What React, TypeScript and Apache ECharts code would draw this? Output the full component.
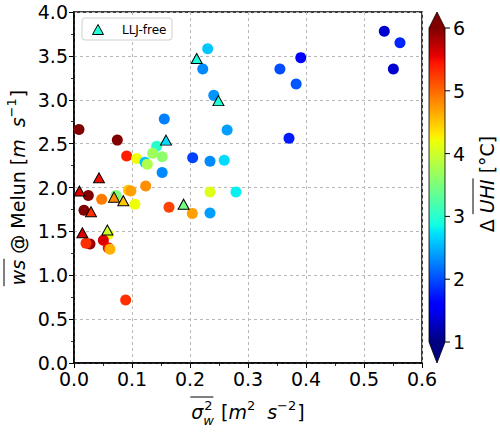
import React, { useEffect, useRef } from "react";
import * as echarts from "echarts";

// ---- data ----
const circleX = [0.2305, 0.222, 0.241, 0.1557, 0.264, 0.0086, 0.0747, 0.1425, 0.0908, 0.108, 0.1356, 0.152, 0.1224, 0.1264, 0.152, 0.2046, 0.2345, 0.259, 0.0247, 0.0477, 0.0724, 0.094, 0.098, 0.1236, 0.105, 0.0172, 0.1638, 0.204, 0.2345, 0.2345, 0.2793, 0.059, 0.0506, 0.0276, 0.0207, 0.059, 0.062, 0.0891, 0.535, 0.562, 0.5506, 0.391, 0.355, 0.383, 0.3707];
const circleY = [3.58, 3.35, 3.05, 2.78, 2.655, 2.66, 2.54, 2.47, 2.36, 2.33, 2.39, 2.35, 2.287, 2.265, 2.17, 2.34, 2.3, 2.31, 1.91, 1.865, 1.91, 1.97, 1.96, 2.017, 1.81, 1.74, 1.774, 1.705, 1.71, 1.95, 1.95, 1.467, 1.4, 1.356, 1.364, 1.314, 1.296, 0.718, 3.78, 3.65, 3.35, 3.48, 3.35, 3.18, 2.56];
const circleUHI = [2.6, 2.3, 2.35, 2.25, 2.4, 6.0, 6.0, 3.0, 5.4, 4.2, 3.7, 3.6, 2.6, 3.8, 2.3, 1.95, 2.3, 2.7, 6.0, 4.9, 3.5, 4.5, 4.7, 4.8, 4.2, 6.0, 5.2, 4.7, 2.4, 4.1, 2.8, 4.2, 5.6, 5.9, 5.3, 5.5, 4.6, 5.3, 1.35, 1.8, 1.35, 1.55, 2.0, 2.05, 1.75];

const triX = [0.2115, 0.249, 0.1586, 0.0431, 0.0092, 0.069, 0.085, 0.0293, 0.189, 0.0144, 0.0575];
const triY = [3.47, 2.99, 2.54, 2.11, 1.96, 1.89, 1.85, 1.724, 1.81, 1.485, 1.516];
const triUHI = [2.9, 2.95, 2.7, 5.5, 5.6, 4.8, 4.5, 5.3, 3.45, 5.6, 4.0];

const cbarTicks = [1, 2, 3, 4, 5, 6];
const uhiMin = 1;
const uhiMax = 6;
const legendLabel = "LLJ-free";

// ---- jet colormap ----
function interp(t: number, xs: number[], ys: number[]) {
  for (let i = 0; i < xs.length - 1; i++) {
    if (t <= xs[i + 1]) {
      const f = (t - xs[i]) / (xs[i + 1] - xs[i]);
      return ys[i] + f * (ys[i + 1] - ys[i]);
    }
  }
  return ys[ys.length - 1];
}
function jet(t: number) {
  const r = interp(t, [0, 0.35, 0.66, 0.89, 1], [0, 0, 1, 1, 0.5]);
  const g = interp(t, [0, 0.125, 0.375, 0.64, 0.91, 1], [0, 0, 1, 1, 0, 0]);
  const b = interp(t, [0, 0.11, 0.34, 0.65, 1], [0.5, 1, 1, 0, 0]);
  const h = (v: number) => Math.round(v * 255).toString(16).padStart(2, "0");
  return "#" + h(r) + h(g) + h(b);
}
const N = 128;
const jetColors = Array.from({ length: N }, (_, i) => jet(i / (N - 1)));

// ---- layout ----
const GL = 74, GR = 422, GT = 12, GB = 363;
const CB_L = 429, CB_R = 445, CB_T = 28, CB_B = 342;
const FONT = "DejaVu Sans";
const FS = 19;
const SS = 13;

type Piece = { t?: string; size?: number; it?: boolean; dy?: number; gap?: number; over?: boolean; stack?: [string, boolean, string, boolean] };

function buildLabel(pieces: Piece[], cx: number, cy: number, rot: number) {
  const ctx = document.createElement("canvas").getContext("2d")!;
  const fontOf = (size: number, it: boolean) => `${it ? "italic " : ""}${size}px '${FONT}'`;
  const meas = (t: string, size: number, it: boolean) => {
    ctx.font = fontOf(size, it);
    return ctx.measureText(t).width;
  };
  const widths = pieces.map((p) => {
    if (p.gap !== undefined) return p.gap;
    if (p.stack) return Math.max(meas(p.stack[0], SS, p.stack[1]), meas(p.stack[2], SS, p.stack[3])) + 1;
    return meas(p.t!, p.size || FS, !!p.it);
  });
  const W = widths.reduce((a, b) => a + b, 0);
  let x = -W / 2;
  const children: any[] = [];
  pieces.forEach((p, i) => {
    const w = widths[i];
    if (p.stack) {
      children.push({ type: "text", x: x + 1, y: -7, style: { text: p.stack[0], font: fontOf(SS, p.stack[1]), fill: "#000", textVerticalAlign: "middle" } });
      children.push({ type: "text", x: x, y: 8, style: { text: p.stack[2], font: fontOf(SS, p.stack[3]), fill: "#000", textVerticalAlign: "middle" } });
    } else if (p.t) {
      children.push({ type: "text", x, y: p.dy || 0, style: { text: p.t, font: fontOf(p.size || FS, !!p.it), fill: "#000", textVerticalAlign: "middle" } });
    }
    if (p.over) {
      children.push({ type: "line", shape: { x1: x - 1, y1: -14, x2: x + w + 1, y2: -14 }, style: { stroke: "#000", lineWidth: 1 } });
    }
    x += w;
  });
  return { type: "group", x: cx, y: cy, rotation: rot, children };
}

export default function App() {
  const ref = useRef<HTMLDivElement>(null);
  useEffect(() => {
    if (!ref.current) return;
    const chart = echarts.init(ref.current, undefined, { renderer: "svg" });

    const cbStops = jetColors.map((c, i) => ({ offset: i / (N - 1), color: c }));
    const cbY = (v: number) => CB_B - ((v - uhiMin) / (uhiMax - uhiMin)) * (CB_B - CB_T);
    const cbMid = (CB_L + CB_R) / 2;

    const graphics: any[] = [];
    // colorbar body
    graphics.push({
      type: "rect",
      shape: { x: CB_L, y: CB_T, width: CB_R - CB_L, height: CB_B - CB_T },
      style: { fill: { type: "linear", x: 0, y: 1, x2: 0, y2: 0, colorStops: cbStops } },
      silent: true,
    });
    graphics.push({ type: "polygon", shape: { points: [[CB_L, CB_T], [CB_R, CB_T], [cbMid, 12]] }, style: { fill: jet(1) } });
    graphics.push({ type: "polygon", shape: { points: [[CB_L, CB_B], [CB_R, CB_B], [cbMid, 363]] }, style: { fill: jet(0) } });
    graphics.push({
      type: "polygon",
      shape: { points: [[CB_L, CB_T], [cbMid, 12], [CB_R, CB_T], [CB_R, CB_B], [cbMid, 363], [CB_L, CB_B]] },
      style: { fill: "none", stroke: "#000", lineWidth: 0.8 },
    });
    cbarTicks.forEach((v) => {
      const y = cbY(v);
      graphics.push({ type: "line", shape: { x1: CB_R, y1: y, x2: CB_R + 5, y2: y }, style: { stroke: "#000", lineWidth: 1 } });
      graphics.push({
        type: "text",
        x: CB_R + 8,
        y: y,
        style: { text: String(v), font: `${FS}px '${FONT}'`, fill: "#000", textAlign: "left", textVerticalAlign: "middle" },
      });
    });
    // colorbar label
    graphics.push(
      buildLabel(
        [{ t: "Δ " }, { t: "UHI", it: true, over: true }, { t: " [°C]" }],
        487,
        184,
        Math.PI / 2
      )
    );
    // y label
    graphics.push(
      buildLabel(
        [
          { t: "ws", it: true, over: true },
          { t: " @ Melun [" },
          { t: "m", it: true },
          { gap: 12 },
          { t: "s", it: true },
          { t: "−1", size: SS, dy: -7 },
          { gap: 1 },
          { t: "]" },
        ],
        18,
        187.5,
        Math.PI / 2
      )
    );
    // x label
    graphics.push(
      buildLabel(
        [
          { t: "σ", it: true },
          { stack: ["2", false, "w", true] },
          { gap: 6 },
          { t: "[" },
          { t: "m", it: true },
          { t: "2", size: SS, dy: -7 },
          { gap: 12 },
          { t: "s", it: true },
          { t: "−2", size: SS, dy: -7 },
          { gap: 1 },
          { t: "]" },
        ],
        248,
        412,
        0
      )
    );
    // fix overline on sigma group in x label: extend over the stack
    const xLab = graphics[graphics.length - 1];
    const sigmaOver = { type: "line", shape: { x1: 0, y1: -15, x2: 0, y2: -15 }, style: { stroke: "#000", lineWidth: 1 } };
    const sig = xLab.children[0];
    const sub = xLab.children[2];
    sigmaOver.shape.x1 = sig.x - 1;
    sigmaOver.shape.x2 = sub.x + 10;
    xLab.children.push(sigmaOver);

    // legend
    graphics.push({
      type: "rect",
      shape: { x: 82, y: 18, width: 90, height: 22, r: 3 },
      style: { fill: "rgba(255,255,255,0.8)", stroke: "#d0d0d0", lineWidth: 1 },
      z: 100,
    });
    graphics.push({
      type: "polygon",
      shape: { points: [[92.5, 34.5], [103.5, 34.5], [98, 24.5]] },
      style: { fill: jet((2.95 - uhiMin) / (uhiMax - uhiMin)), stroke: "#000", lineWidth: 1 },
      z: 101,
    });
    graphics.push({
      type: "text",
      x: 122,
      y: 29.5,
      style: { text: legendLabel, font: `12px '${FONT}'`, fill: "#000", textVerticalAlign: "middle" },
      z: 101,
    });

    const axisCommon = {
      axisLine: { show: true, onZero: false, lineStyle: { color: "#000", width: 1.5 } },
      axisTick: { show: true, inside: false, length: 5, lineStyle: { color: "#000", width: 1 } },
      minorTick: { show: true, splitNumber: 2, length: 3, lineStyle: { color: "#000", width: 0.8 } },
      splitLine: { show: true, lineStyle: { color: "#b8b8b8", width: 1, type: [3, 3] } },
      axisLabel: { color: "#000", fontSize: FS, fontFamily: FONT, margin: 6, formatter: (v: number) => v.toFixed(1) },
    };

    chart.setOption({
      animation: false,
      backgroundColor: "#fff",
      grid: { left: GL, right: 500 - GR, top: GT, bottom: 432 - GB, show: true, borderColor: "#000", borderWidth: 1.5, backgroundColor: "transparent" },
      xAxis: { type: "value", min: 0, max: 0.6, interval: 0.1, ...axisCommon },
      yAxis: { type: "value", min: 0, max: 4, interval: 0.5, ...axisCommon },
      visualMap: {
        type: "continuous",
        show: false,
        min: uhiMin,
        max: uhiMax,
        dimension: 2,
        seriesIndex: [0, 1],
        inRange: { color: jetColors },
      },
      series: [
        {
          type: "scatter",
          name: "circles",
          symbol: "circle",
          symbolSize: 11,
          data: circleX.map((x, i) => [x, circleY[i], circleUHI[i]]),
          itemStyle: { opacity: 1 },
          z: 2,
        },
        {
          type: "scatter",
          name: legendLabel,
          symbol: "triangle",
          symbolSize: [11, 10],
          data: triX.map((x, i) => [x, triY[i], triUHI[i]]),
          itemStyle: { opacity: 1, borderColor: "#000", borderWidth: 1 },
          z: 3,
        },
      ],
      graphic: graphics,
    });
    return () => chart.dispose();
  }, []);
  return <div ref={ref} style={{ width: 500, height: 432, position: "absolute", left: 0, top: 0 }} />;
}
